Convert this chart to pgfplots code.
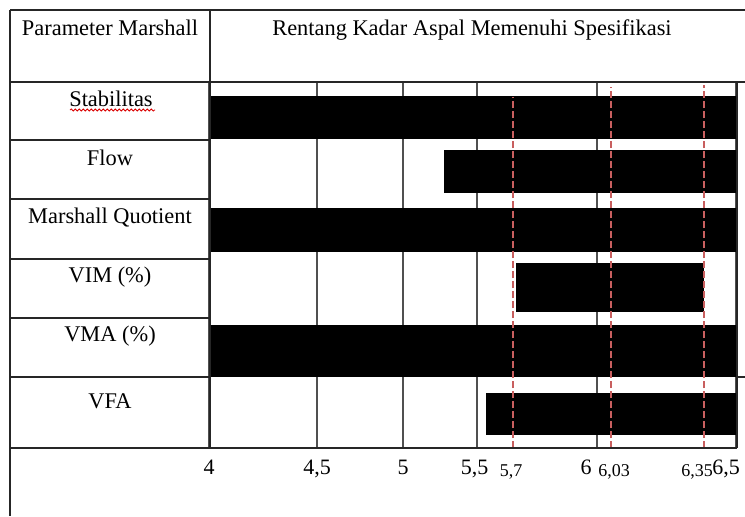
\documentclass[border=0pt]{standalone}
\usepackage{pgfplots}
\pgfplotsset{compat=1.18}
\usepackage{fontspec}
\setmainfont{Liberation Serif}
\usetikzlibrary{decorations.pathmorphing}
\definecolor{dashcol}{RGB}{200,95,95}
\definecolor{gridcol}{RGB}{80,80,80}
\newcommand{\gapw}[1]{\rule{#1}{0pt}}
\begin{document}
\begin{tikzpicture}[x=0.5pt,y=0.5pt]
\useasboundingbox (0,0) rectangle (745,516);
\begin{axis}[
  at={(104.5pt,34pt)}, anchor=south west,
  scale only axis, width=263.5pt, height=183pt,
  x coord trafo/.code={\pgfmathparse{(#1<4.5) ? (209+(#1-4)*216) : ((#1<5) ? (317+(#1-4.5)*172) : ((#1<5.5) ? (403+(#1-5)*148) : ((#1<5.7) ? (477+(#1-5.5)*180) : ((#1<6) ? (513+(#1-5.7)*280) : ((#1<6.03) ? (597+(#1-6)*466.67) : ((#1<6.35) ? (611+(#1-6.03)*290.63) : (704+(#1-6.35)*213.33)))))))}},
  xmin=4, xmax=6.5, ymin=68, ymax=434,
  enlargelimits=false,
  axis line style={draw=none},
  ytick=\empty,
  xtick={4,4.5,5,5.5,6,6.5},
  xticklabels={4,{4,5},5,{5,5\gapw{2.5pt}},{6\gapw{11pt}},{6,5\gapw{10pt}}},
  major tick length=0pt,
  xmajorgrids,
  major grid style={gridcol, line width=0.7pt},
  xticklabel style={font=\fontsize{11}{12}\selectfont, anchor=base, yshift=-13pt},
  extra x ticks={5.7,6.03,6.35},
  extra x tick labels={{5,7\gapw{2pt}},{\gapw{3pt}6,03},{6,35\gapw{7pt}}},
  extra x tick style={grid=none, xticklabel style={font=\fontsize{9}{10}\selectfont, yshift=-1pt}},
  no markers,
]
% bars: start value, end value, lower edge, upper edge (row geometry)
\addplot[fill=black, draw=none] coordinates {(4,377) (6.5,377) (6.5,420) (4,420)};
\addplot[fill=black, draw=none] coordinates {(5.28,323) (6.5,323) (6.5,366) (5.28,366)};
\addplot[fill=black, draw=none] coordinates {(4,264) (6.5,264) (6.5,308) (4,308)};
\addplot[fill=black, draw=none] coordinates {(5.71,204) (6.35,204) (6.35,253) (5.71,253)};
\addplot[fill=black, draw=none] coordinates {(4,139) (6.5,139) (6.5,191) (4,191)};
\addplot[fill=black, draw=none] coordinates {(5.55,81) (6.5,81) (6.5,123) (5.55,123)};
% dashed reference lines
\addplot[dashcol, line width=0.6pt, dash pattern=on 3.5pt off 1.5pt] coordinates {(5.7,68) (5.7,419)};
\addplot[dashcol, line width=0.6pt, dash pattern=on 3.5pt off 1.5pt] coordinates {(6.03,68) (6.03,429)};
\addplot[dashcol, line width=0.6pt, dash pattern=on 3.5pt off 1.5pt] coordinates {(6.35,68) (6.35,431)};
\end{axis}
% table frame
\begin{scope}[line width=0.8pt, black!85]
\draw (10,506) -- (745,506);
\draw (10,434) -- (745,434);
\draw (10,506) -- (10,0);
\draw (210,506) -- (210,68);
\draw (10,68) -- (737,68);
\draw (737,434) -- (737,68);
\draw (737,139) -- (745,139);
\foreach \yy in {376,317,257,198,139} \draw (10,\yy) -- (210,\yy);
\end{scope}
\begin{scope}[font=\fontsize{11.2}{13}\selectfont]
\node[anchor=base] at (110,481) {Parameter Marshall};
\node[anchor=base] at (472,481) {Rentang Kadar Aspal Memenuhi Spesifikasi};
\node[anchor=base] at (111,410) {Stabilitas};
\node[anchor=base] at (110,351) {Flow};
\node[anchor=base] at (110,293) {Marshall Quotient};
\node[anchor=base] at (110,234) {VIM (\%)};
\node[anchor=base] at (110,175) {VMA (\%)};
\node[anchor=base] at (110,108) {VFA};
\end{scope}
\draw[red!85!black, line width=0.4pt, decorate, decoration={snake, amplitude=0.5pt, segment length=2pt}] (70,406) -- (155,406);
\end{tikzpicture}
\end{document}
